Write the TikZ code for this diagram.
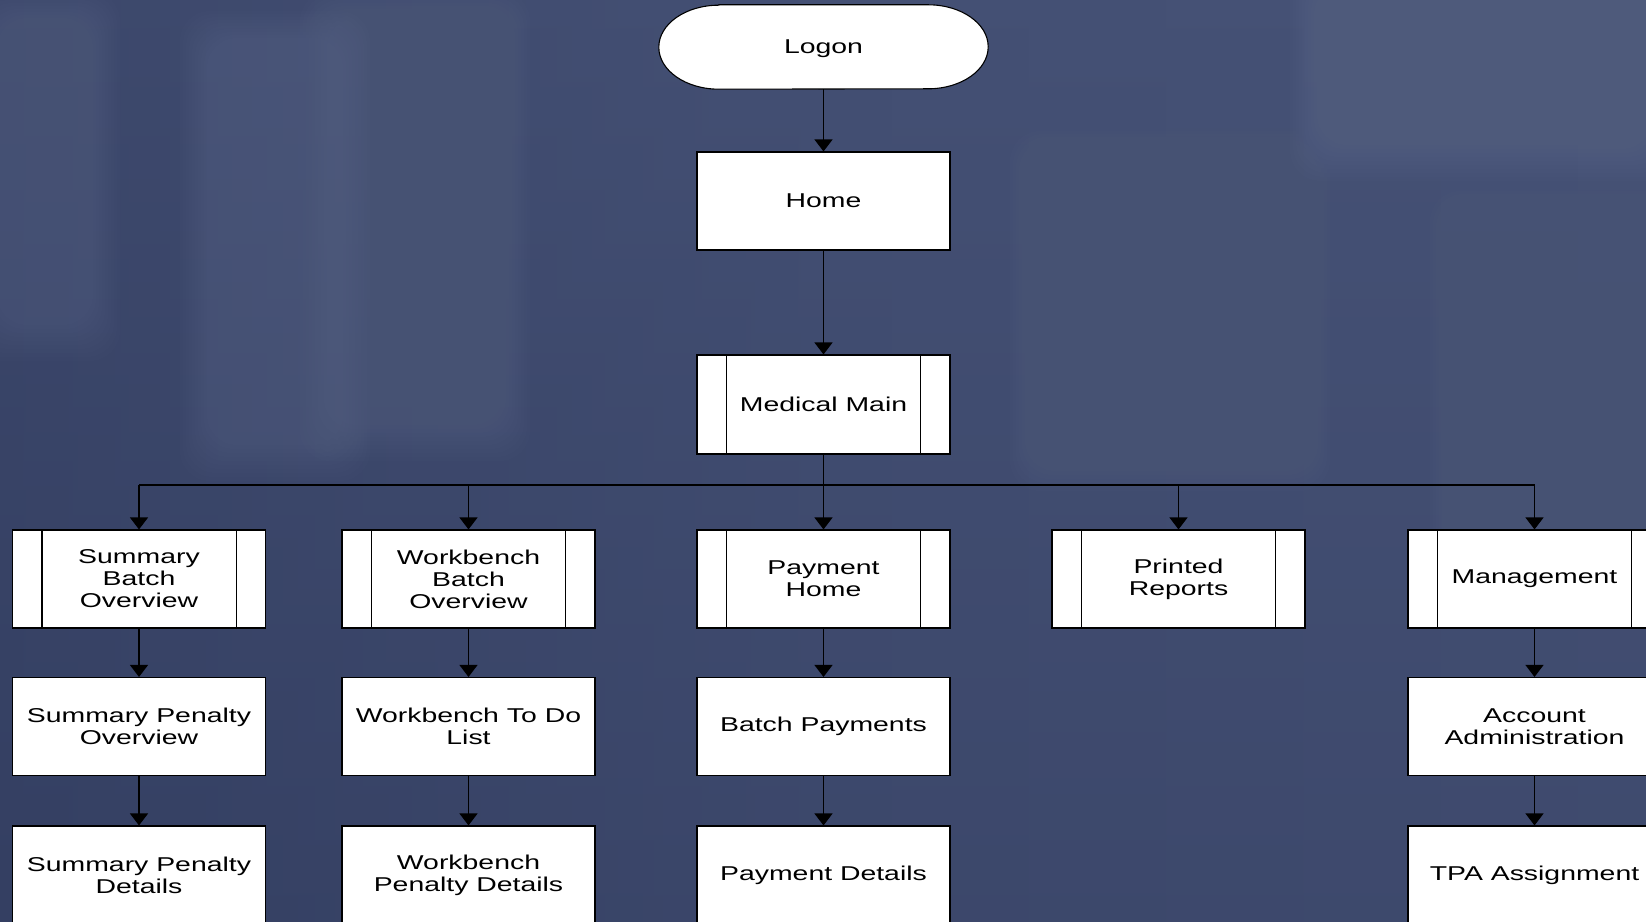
\documentclass[tikz,border=0pt]{standalone}
\usepackage{fontspec}
\setmainfont[FakeStretch=1.42]{Liberation Sans}
\usetikzlibrary{arrows.meta,calc}
\definecolor{bgA}{RGB}{52,63,98}
\definecolor{bgB}{RGB}{68,80,116}
\definecolor{bgC}{RGB}{74,86,122}
\definecolor{bgHi}{RGB}{120,132,165}
\tikzset{
  box/.style={draw=black,line width=1.1pt,fill=white,minimum width=253pt,minimum height=98pt,
    align=center,inner sep=2pt,font=\fontsize{20}{22}\selectfont},
  subbox/.style={box,
    append after command={
      \pgfextra{\let\tmpnode\tikzlastnode}
      ($(\tmpnode.north west)+(30pt,0)$) edge[draw=black,line width=1.1pt] ($(\tmpnode.south west)+(30pt,0)$)
      ($(\tmpnode.north east)+(-30pt,0)$) edge[draw=black,line width=1.1pt] ($(\tmpnode.south east)+(-30pt,0)$)
    }},
  link/.style={draw=black,line width=1.2pt},
  arr/.style={link,-{Triangle[width=18pt,length=12pt]}},
  glow/.style={fill=bgHi,draw=none,rounded corners=30pt},
}
\begin{document}
\begin{tikzpicture}[x=1pt,y=1pt]
\useasboundingbox (0,0) rectangle (1646,921);
% background
\begin{scope}
\clip (0,0) rectangle (1646,921);
\shade[left color=bgA,right color=bgC,middle color=bgB] (0,0) rectangle (1646,921);
\shade[top color=bgB,bottom color=bgA,opacity=0.5] (0,0) rectangle (1646,921);
\foreach \i in {1,...,10}{
  \fill[glow,opacity=0.025] ({210-3*\i},{480-4*\i}) rectangle ({340+3*\i},{880+3*\i});
  \fill[glow,opacity=0.02] ({330-3*\i},{500-4*\i}) rectangle ({500+3*\i},{900+3*\i});
  \fill[glow,opacity=0.02] ({0-3*\i},{600-4*\i}) rectangle ({90+3*\i},{900+3*\i});
  \fill[glow,opacity=0.02] ({1040-3*\i},{470-4*\i}) rectangle ({1300+3*\i},{760+3*\i});
  \fill[glow,opacity=0.025] ({1320-3*\i},{780-4*\i}) rectangle ({1646+3*\i},{930+3*\i});
  \fill[glow,opacity=0.02] ({1460-3*\i},{380-4*\i}) rectangle ({1646+3*\i},{700+3*\i});
  \fill[glow,opacity=0.015] ({1000-3*\i},{-10-4*\i}) rectangle ({1320+3*\i},{280+3*\i});
}
\end{scope}
% Logon terminator
\node[minimum width=329pt,minimum height=84pt,inner sep=0pt] (logon) at (823.5,874) {};
\draw[fill=white,draw=black,line width=1.1pt]
  ($(logon.north west)+(60,0)$) -- ($(logon.north east)+(-60,0)$)
  arc[start angle=90,end angle=-90,x radius=60,y radius=42]
  -- ($(logon.south west)+(60,0)$)
  arc[start angle=270,end angle=90,x radius=60,y radius=42] -- cycle;
\node[font=\fontsize{20}{22}\selectfont] (logontext) at ($(logon.center)+(0,-2)$) {Logon};
% main column
\node[box] (home) at (823.5,720) {Home};
\node[subbox,minimum height=99pt] (med) at (823.5,516.5) {Medical Main};
% row 2
\node[subbox] (a1) at (139,342) {Summary\\Batch\\Overview};
\node[subbox] (b1) at (468.5,342) {Workbench\\Batch\\Overview};
\node[subbox] (c1) at (823.5,342) {Payment\\Home};
\node[subbox] (d1) at (1178.5,342) {Printed\\Reports};
\node[subbox] (e1) at (1534.5,342) {Management};
% row 3
\node[box] (a2) at (139,194.5) {Summary Penalty\\Overview};
\node[box] (b2) at (468.5,194.5) {Workbench To Do\\List};
\node[box] (c2) at (823.5,194.5) {Batch Payments};
\node[box] (e2) at (1534.5,194.5) {Account\\Administration};
% row 4
\node[box] (a3) at (139,46) {Summary Penalty\\Details};
\node[box] (b3) at (468.5,46) {Workbench\\Penalty Details};
\node[box] (c3) at (823.5,46) {Payment Details};
\node[box] (e3) at (1534.5,46) {TPA Assignment};
% connectors
\draw[arr] (logon.south) -- (home.north);
\draw[arr] (home.south) -- (med.north);
\coordinate (bus) at (823.5,436);
\coordinate (busL) at (a1.north |- bus);
\coordinate (busR) at (e1.north |- bus);
\draw[link] (med.south) -- (bus);
\draw[link] (busL) -- (busR);
\foreach \n in {a1,b1,c1,d1,e1}{
  \draw[arr] (\n.north |- bus) -- (\n.north);
}
\foreach \u/\v in {a1/a2,a2/a3,b1/b2,b2/b3,c1/c2,c2/c3,e1/e2,e2/e3}{
  \draw[arr] (\u.south) -- (\v.north);
}
\end{tikzpicture}
\end{document}
